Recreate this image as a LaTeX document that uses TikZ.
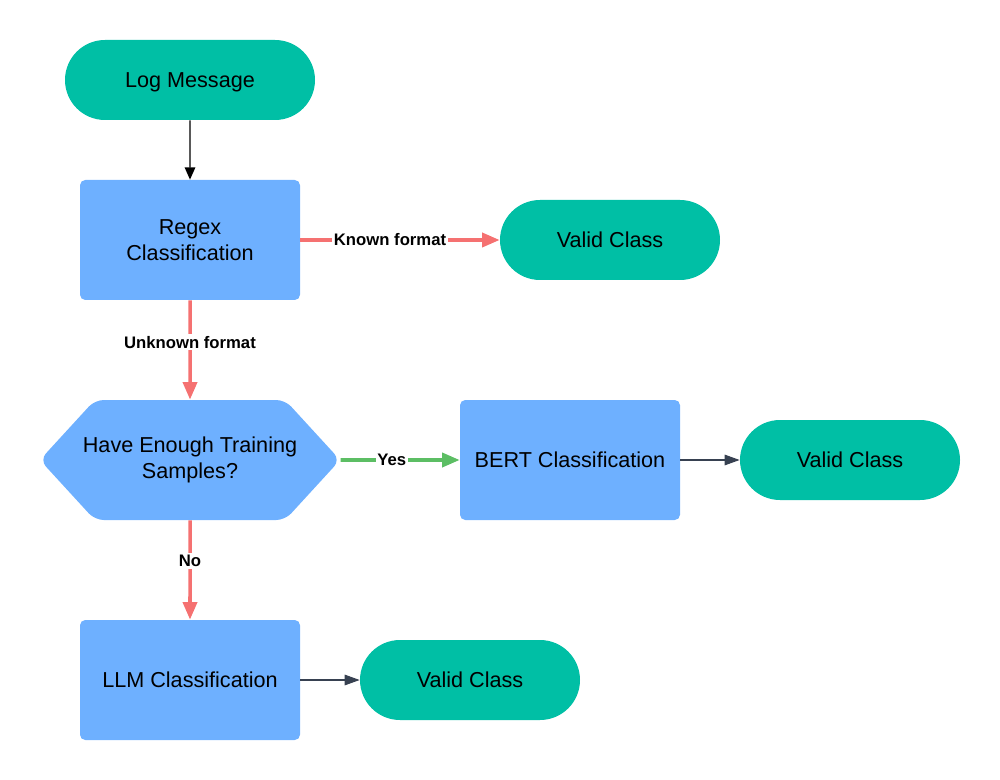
\documentclass[tikz,border=0pt]{standalone}
\usepackage{fontspec}
\setmainfont{Liberation Sans}
\usepackage{tikz}
\usetikzlibrary{arrows.meta,shapes.symbols,shapes.misc}

\definecolor{tealfill}{RGB}{0,191,165}
\definecolor{bluefill}{RGB}{110,176,255}
\definecolor{redline}{RGB}{245,113,113}
\definecolor{greenline}{RGB}{92,190,100}
\definecolor{darkline}{RGB}{55,65,81}

\begin{document}
\begin{tikzpicture}[x=0.02cm, y=-0.02cm,
    terminal/.style={rounded rectangle, fill=tealfill, minimum width=220*0.02cm, minimum height=80*0.02cm, font=\fontsize{12.3}{14}\selectfont, inner sep=0pt, text depth=0pt},
    process/.style={rectangle, rounded corners=3pt, fill=bluefill, minimum width=220*0.02cm, minimum height=120*0.02cm, align=center, font=\fontsize{12.3}{14.5}\selectfont},
    decision/.style={signal, signal to=west and east, signal pointer angle=95, rounded corners=5pt, fill=bluefill, minimum height=120*0.02cm, align=center, font=\fontsize{12.3}{14.5}\selectfont, inner ysep=0pt, inner xsep=-0.24cm},
    yesno/.style={font=\bfseries\fontsize{9.5}{11}\selectfont, fill=white, inner sep=1pt},
    redarrow/.style={draw=redline, line width=2pt, -{Triangle[length=10pt, width=8pt]}},
    greenarrow/.style={draw=greenline, line width=2pt, -{Triangle[length=10pt, width=8pt]}},
    darkarrow/.style={draw=darkline, line width=0.6pt, -{Triangle[length=8.5pt, width=6pt]}}]
    \useasboundingbox (0,0) rectangle (1000,780);
    % nodes
    \node[terminal, minimum width=250*0.02cm] (log) at (190,80) {Log Message};
    \node[process] (regex) at (190,240) {Regex\\Classification};
    \node[terminal] (valid1) at (610,240) {Valid Class};
    \node[decision] (enough) at (190,460) {Have Enough Training\\Samples?};
    \node[process] (bert) at (570,460) {BERT Classification};
    \node[terminal] (valid2) at (850,460) {Valid Class};
    \node[process] (llm) at (190,680) {LLM Classification};
    \node[terminal] (valid3) at (470,680) {Valid Class};
    % connectors
    \draw[line width=0.8pt, -{Triangle[length=7pt, width=6pt]}] (log) -- (regex);
    \draw[redarrow] (regex) -- node[yesno, pos=0.45] {Known format} (valid1);
    \draw[redarrow] (regex) -- node[yesno, pos=0.42] {Unknown format} (enough);
    \draw[greenarrow] (enough) -- node[yesno, pos=0.43] {Yes} (bert);
    \draw[redarrow] (enough) -- node[yesno, pos=0.41] {No} (llm);
    \draw[darkarrow] (bert) -- (valid2);
    \draw[darkarrow] (llm) -- (valid3);
\end{tikzpicture}
\end{document}
